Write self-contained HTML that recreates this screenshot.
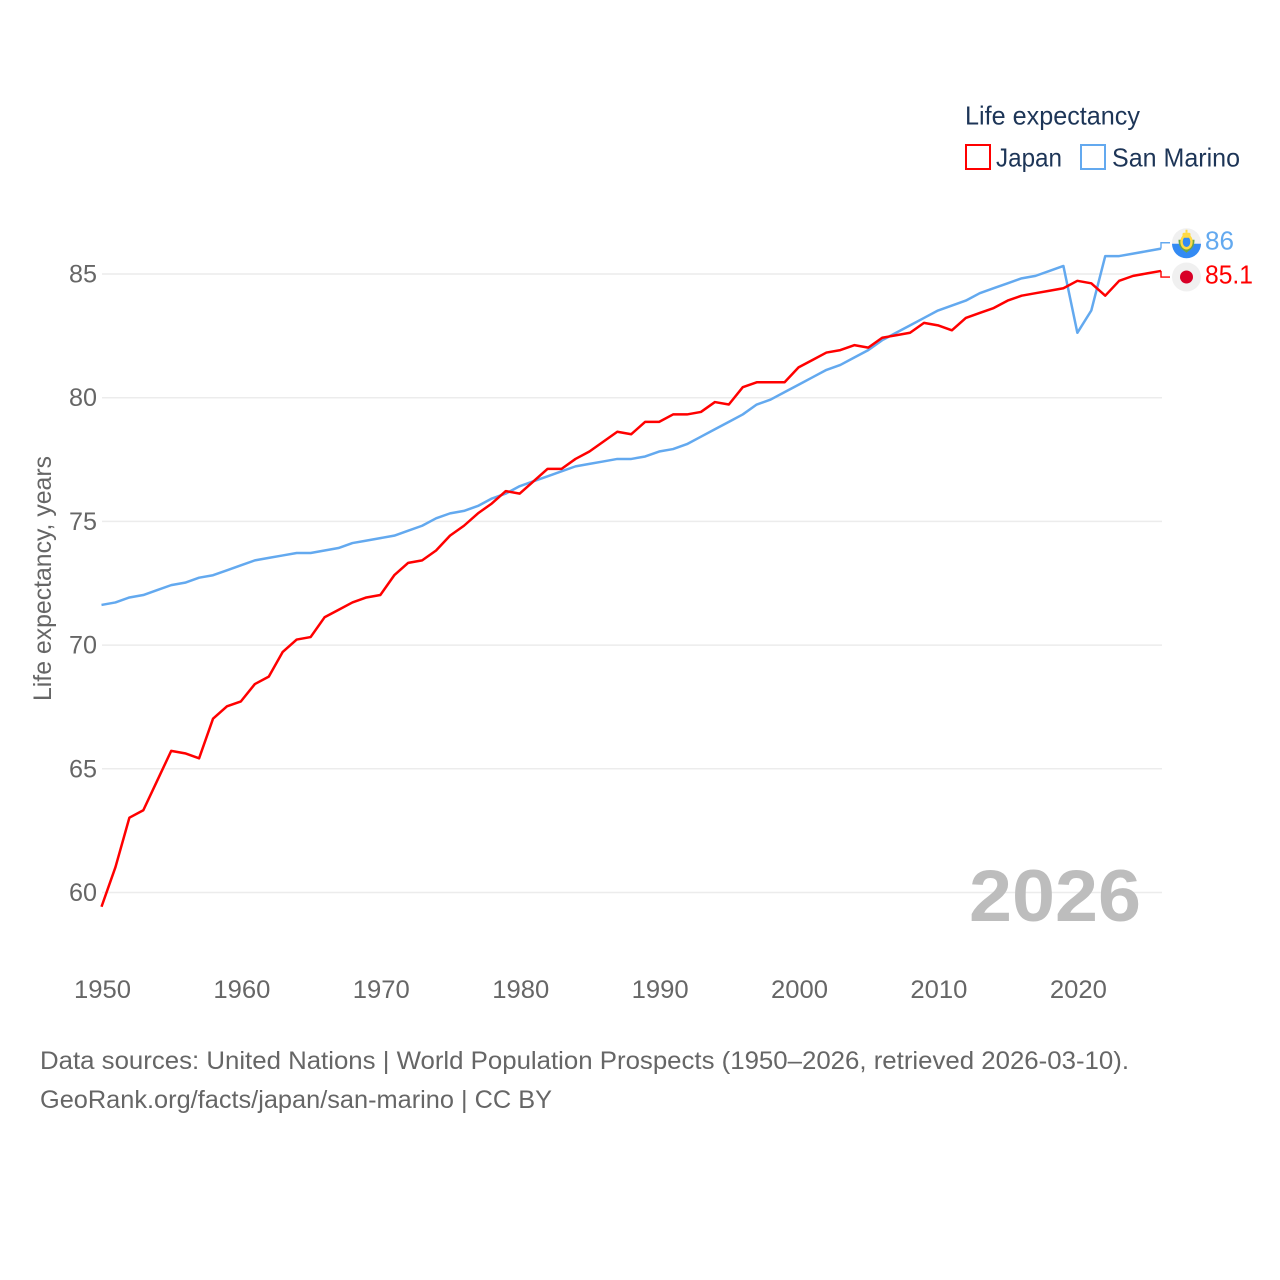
<!DOCTYPE html>
<html lang="en">
<head>
<meta charset="utf-8">
<title>Life expectancy: Japan and San Marino</title>
<style>
html,body{margin:0;padding:0;background:#fff;width:1280px;height:1280px;overflow:hidden}
svg{display:block}
text{font-family:"Liberation Sans",sans-serif}
</style>
</head>
<body>
<svg id="chart" xmlns="http://www.w3.org/2000/svg" width="1280" height="1280" viewBox="0 0 1280 1280">
  <rect width="1280" height="1280" fill="#fff"/>
  <g id="grid"></g>
  <g id="yticks"></g>
  <g id="xticks"></g>
  <text transform="translate(51,701) rotate(-90)" font-size="25" fill="#666" textLength="245" lengthAdjust="spacingAndGlyphs">Life expectancy, years</text>
  <text x="969" y="921" font-size="73" font-weight="700" fill="#bdbdbd" textLength="172" lengthAdjust="spacingAndGlyphs">2026</text>
  <g>
    <text x="965" y="124.5" font-size="26" fill="#1d3557" textLength="175" lengthAdjust="spacingAndGlyphs">Life expectancy</text>
    <g>
      <rect x="966" y="145" width="24" height="24" fill="#fff" stroke="#ff0000" stroke-width="2"/>
      <text x="996" y="166.5" font-size="26" fill="#1d3557" textLength="66" lengthAdjust="spacingAndGlyphs">Japan</text>
    </g>
    <g>
      <rect x="1081" y="145" width="24" height="24" fill="#fff" stroke="#63a9ef" stroke-width="2"/>
      <text x="1112" y="166.5" font-size="26" fill="#1d3557" textLength="128" lengthAdjust="spacingAndGlyphs">San Marino</text>
    </g>
  </g>
  <g id="series"></g>
  <g id="endLabels"></g>
  <g>
    <text x="40" y="1069" font-size="25" fill="#666" textLength="1089" lengthAdjust="spacingAndGlyphs">Data sources: United Nations | World Population Prospects (1950–2026, retrieved 2026-03-10).</text>
    <text x="40" y="1108" font-size="25" fill="#666" textLength="512" lengthAdjust="spacingAndGlyphs">GeoRank.org/facts/japan/san-marino | CC BY</text>
  </g>
</svg>
<script>
const years = [1950,1951,1952,1953,1954,1955,1956,1957,1958,1959,1960,1961,1962,1963,1964,1965,1966,1967,1968,1969,1970,1971,1972,1973,1974,1975,1976,1977,1978,1979,1980,1981,1982,1983,1984,1985,1986,1987,1988,1989,1990,1991,1992,1993,1994,1995,1996,1997,1998,1999,2000,2001,2002,2003,2004,2005,2006,2007,2008,2009,2010,2011,2012,2013,2014,2015,2016,2017,2018,2019,2020,2021,2022,2023,2024,2025,2026];
const japanValues = [59.4,61.0,63.0,63.3,64.5,65.7,65.6,65.4,67.0,67.5,67.7,68.4,68.7,69.7,70.2,70.3,71.1,71.4,71.7,71.9,72.0,72.8,73.3,73.4,73.8,74.4,74.8,75.3,75.7,76.2,76.1,76.6,77.1,77.1,77.5,77.8,78.2,78.6,78.5,79.0,79.0,79.3,79.3,79.4,79.8,79.7,80.4,80.6,80.6,80.6,81.2,81.5,81.8,81.9,82.1,82.0,82.4,82.5,82.6,83.0,82.9,82.7,83.2,83.4,83.6,83.9,84.1,84.2,84.3,84.4,84.7,84.6,84.1,84.7,84.9,85.0,85.1];
const sanMarinoValues = [71.6,71.7,71.9,72.0,72.2,72.4,72.5,72.7,72.8,73.0,73.2,73.4,73.5,73.6,73.7,73.7,73.8,73.9,74.1,74.2,74.3,74.4,74.6,74.8,75.1,75.3,75.4,75.6,75.9,76.1,76.4,76.6,76.8,77.0,77.2,77.3,77.4,77.5,77.5,77.6,77.8,77.9,78.1,78.4,78.7,79.0,79.3,79.7,79.9,80.2,80.5,80.8,81.1,81.3,81.6,81.9,82.3,82.6,82.9,83.2,83.5,83.7,83.9,84.2,84.4,84.6,84.8,84.9,85.1,85.3,82.6,83.5,85.7,85.7,85.8,85.9,86.0];
const yTickValues = [60,65,70,75,80,85];
const xTickValues = [1950,1960,1970,1980,1990,2000,2010,2020];
const japanEndLabel = "85.1";
const sanMarinoEndLabel = "86";

const SVG_NS = "http://www.w3.org/2000/svg";
function xScale(year) { return 102 + (year - 1950) * (1161.5 - 102) / 76; }
function yScale(value) { return 892.5 - (value - 60) * (892.5 - 274) / 25; }
function make(tag, parent, attrs) {
  const el = document.createElementNS(SVG_NS, tag);
  for (const k in attrs) el.setAttribute(k, attrs[k]);
  parent.appendChild(el);
  return el;
}
const gridGroup = document.getElementById("grid");
const yTickGroup = document.getElementById("yticks");
const xTickGroup = document.getElementById("xticks");
const seriesGroup = document.getElementById("series");
const endGroup = document.getElementById("endLabels");

yTickValues.forEach(function (v) {
  const line = make("line", gridGroup, {x1: 102, x2: 1162, y1: yScale(v), y2: yScale(v), stroke: "#ececec", "stroke-width": 1.5});
  
  
  const label = make("text", yTickGroup, {x: 97, y: yScale(v) + 8.5, "text-anchor": "end", "font-size": 25, fill: "#666", textLength: 28, lengthAdjust: "spacingAndGlyphs"});
  label.textContent = v;
  
  
});

xTickValues.forEach(function (v) {
  const label = make("text", xTickGroup, {x: xScale(v) + 0.5, y: 998, "text-anchor": "middle", "font-size": 25, fill: "#666", textLength: 57, lengthAdjust: "spacingAndGlyphs"});
  label.textContent = v;
  
  
});

function drawSeries(values, color, name) {
  const d = values.map(function (v, i) {
    return (i ? "L" : "M") + (xScale(years[i]) - 0.5).toFixed(2) + " " + (yScale(v) - 0.6).toFixed(2);
  }).join("");
  const path = make("path", seriesGroup, {d: d, fill: "none", stroke: color, "stroke-width": 2.5, "stroke-linejoin": "round"});
  
  
}
drawSeries(sanMarinoValues, "#63a9ef", "series-line-san-marino");
drawSeries(japanValues, "#ff0000", "series-line-japan");

function drawConnector(value, labelY, color, name) {
  const ex = xScale(years[years.length - 1]) - 0.5;
  const path = make("path", endGroup, {d: "M" + ex + " " + (yScale(value) - 0.6) + "V" + labelY + "H1170", fill: "none", stroke: color, "stroke-width": 1.4});
  
  
}
const smLast = sanMarinoValues[sanMarinoValues.length - 1];
const jpLast = japanValues[japanValues.length - 1];
const smLabelY = yScale(smLast) - 6.5;
const jpLabelY = yScale(jpLast) + 5.5;
drawConnector(smLast, smLabelY, "#63a9ef", "connector-san-marino");
drawConnector(jpLast, jpLabelY, "#ff0000", "connector-japan");

const smFlag = make("g", endGroup, {transform: "translate(1186.5," + smLabelY + ")"});


make("circle", smFlag, {r: 14.5, fill: "#f0f0f0"});
make("path", smFlag, {d: "M-14.5 1A14.5 14.5 0 0 0 14.5 1Z", fill: "#338af3"});
make("path", smFlag, {d: "M-8 -3C-8 6 -3 7 0 10C3 7 8 6 8 -3Z", fill: "#6da544"});
make("ellipse", smFlag, {cx: 0, cy: -1, rx: 5, ry: 6.5, fill: "#338af3", stroke: "#ffda44", "stroke-width": 2.4});
make("rect", smFlag, {x: -4, y: -10, width: 8, height: 5, rx: 1.5, fill: "#ffda44"});
make("rect", smFlag, {x: -1, y: -13, width: 2, height: 3, fill: "#ffda44"});

const jpFlag = make("g", endGroup, {transform: "translate(1186.5," + jpLabelY + ")"});


make("circle", jpFlag, {r: 14.5, fill: "#f0f0f0"});
make("circle", jpFlag, {r: 6.5, fill: "#d80027"});

const smText = make("text", endGroup, {x: 1205, y: smLabelY + 6.5, "font-size": 26, fill: "#63a9ef", textLength: 29, lengthAdjust: "spacingAndGlyphs"});
smText.textContent = sanMarinoEndLabel;


const jpText = make("text", endGroup, {x: 1205, y: jpLabelY + 6.5, "font-size": 26, fill: "#ff0000", textLength: 48, lengthAdjust: "spacingAndGlyphs"});
jpText.textContent = japanEndLabel;


</script>
</body>
</html>
